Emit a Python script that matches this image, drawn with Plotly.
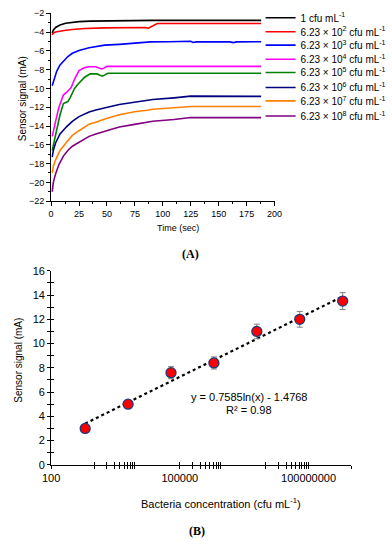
import math
import plotly.graph_objects as go

W, H = 392, 550
SANS = "Liberation Sans, Arial, sans-serif"
SERIF = "Liberation Serif, Times New Roman, serif"

# ---------------- Panel A data ----------------
legend_names = [
    "1 cfu mL<sup>-1</sup>",
    "6.23 \u00d7 10<sup>2</sup> cfu mL<sup>-1</sup>",
    "6.23 \u00d7 10<sup>3</sup> cfu mL<sup>-1</sup>",
    "6.23 \u00d7 10<sup>4</sup> cfu mL<sup>-1</sup>",
    "6.23 \u00d7 10<sup>5</sup> cfu mL<sup>-1</sup>",
    "6.23 \u00d7 10<sup>6</sup> cfu mL<sup>-1</sup>",
    "6.23 \u00d7 10<sup>7</sup> cfu mL<sup>-1</sup>",
    "6.23 \u00d7 10<sup>8</sup> cfu mL<sup>-1</sup>",
]
line_colors = ["#000000", "#ff0000", "#0000ff", "#ff00ff", "#008000", "#000080", "#ff8000", "#800080"]

t_c1 = [1, 2, 4, 8, 13, 19, 25, 35, 48, 65, 91, 120, 150, 188]
v_c1 = [-4.1, -3.8, -3.5, -3.25, -3.05, -2.97, -2.88, -2.83, -2.8, -2.76, -2.75, -2.75, -2.75, -2.75]

t_c2 = [1, 2, 4, 8, 13, 19, 30, 48, 61, 70, 78, 84, 87, 90, 93, 95, 120, 150, 188]
v_c2 = [-4.3, -4.1, -3.98, -3.88, -3.8, -3.72, -3.62, -3.55, -3.52, -3.48, -3.45, -3.5, -3.58, -3.4, -3.15, -3.08, -3.08, -3.08, -3.08]

t_c3 = [1, 3, 5, 8, 11, 15, 19, 25, 34, 48, 61, 76, 89, 105, 125, 127, 130, 160, 163, 166, 188]
v_c3 = [-9.7, -8.8, -8.17, -7.5, -7.1, -6.6, -6.25, -5.95, -5.67, -5.39, -5.3, -5.14, -5.04, -5.02, -4.97, -5.1, -5.04, -5.04, -5.12, -5.04, -5.02]

t_c4 = [1, 3, 5, 7, 9, 11, 14, 16, 18, 21, 25, 30, 34, 40, 43, 45, 47, 50, 60, 188]
v_c4 = [-15.1, -13.9, -13.0, -12.0, -11.3, -10.7, -10.4, -10.2, -9.9, -9.0, -8.1, -7.78, -7.68, -7.68, -7.8, -7.92, -7.85, -7.65, -7.65, -7.65]

t_c5 = [1, 3, 5, 8, 11, 13, 15, 17, 19, 21, 24, 27, 30, 35, 41, 44, 46, 48, 51, 60, 188]
v_c5 = [-16.6, -15.4, -14.4, -12.8, -11.6, -11.5, -11.4, -11.0, -10.5, -10.0, -9.55, -9.15, -8.8, -8.45, -8.45, -8.6, -8.69, -8.55, -8.38, -8.38, -8.38]

t_c6 = [1, 2, 4, 8, 14, 19, 25, 34, 40, 48, 61, 76, 86, 88, 91, 110, 123, 125, 188]
v_c6 = [-17.3, -16.6, -15.8, -14.85, -14.06, -13.5, -13.0, -12.5, -12.3, -12.08, -11.7, -11.45, -11.25, -11.2, -11.18, -11.0, -10.86, -10.82, -10.84]

t_c7 = [1, 2, 4, 8, 14, 19, 25, 34, 40, 48, 61, 76, 86, 88, 91, 110, 123, 125, 188]
v_c7 = [-19.0, -18.3, -17.6, -16.6, -15.7, -15.0, -14.5, -13.8, -13.6, -13.25, -12.8, -12.45, -12.32, -12.25, -12.22, -12.05, -11.95, -11.92, -11.92]

t_c8 = [1, 2, 4, 7, 11, 15, 19, 25, 34, 40, 48, 61, 76, 87, 91, 110, 123, 125, 188]
v_c8 = [-21.0, -20.0, -19.1, -18.1, -17.2, -16.6, -16.15, -15.7, -15.1, -14.85, -14.55, -14.1, -13.8, -13.55, -13.5, -13.3, -13.13, -13.1, -13.1]

series_t = [t_c1, t_c2, t_c3, t_c4, t_c5, t_c6, t_c7, t_c8]
series_v = [v_c1, v_c2, v_c3, v_c4, v_c5, v_c6, v_c7, v_c8]

# ---------------- Panel B data ----------------
concentration = [6.23e2, 6.23e3, 6.23e4, 6.23e5, 6.23e6, 6.23e7, 6.23e8]
signal = [3.0, 5.0, 7.6, 8.4, 11.0, 12.0, 13.5]
signal_err = [0.2, 0.25, 0.5, 0.5, 0.6, 0.65, 0.7]
fit_slope = 0.7585
fit_intercept = -1.4768
fit_r2 = 0.98

xb_tickvals = [1e2, 1e5, 1e8, 1e9]
xb_ticktext = ["100", "100000", "100000000", " "]
xb_minor = [1e3, 2e3, 3e3, 4e3, 5e3, 6e3, 7e3, 8e3, 9e3,
            2e5, 3e5, 4e5, 5e5, 6e5, 7e5, 8e5, 9e5,
            1e7, 2e7, 3e7, 4e7, 5e7, 6e7, 7e7, 8e7, 9e7]

fig = go.Figure()

legend_centers = [12.0, 26.3, 40.0, 54.5, 68.0, 83.3, 97.0, 112.5]
for i in range(8):
    lg = "legend" if i == 0 else f"legend{i+1}"
    fig.add_trace(go.Scatter(
        x=series_t[i], y=series_v[i], mode="lines",
        line=dict(color=line_colors[i], width=1.6),
        name=legend_names[i], xaxis="x", yaxis="y", legend=lg,
    ))

trend_x = [concentration[0], concentration[-1]]
trend_y = [fit_slope * math.log(v) + fit_intercept for v in trend_x]
fig.add_trace(go.Scatter(
    x=trend_x, y=trend_y, mode="lines",
    line=dict(color="black", width=2.2, dash="dot"),
    xaxis="x3", yaxis="y3", showlegend=False, hoverinfo="skip",
))
fig.add_trace(go.Scatter(
    x=concentration, y=signal, mode="markers",
    marker=dict(size=10, color="#ff0000", line=dict(color="#1f3a7a", width=1.3)),
    error_y=dict(type="data", array=signal_err, color="#808080", thickness=1, width=3),
    xaxis="x3", yaxis="y3", showlegend=False,
))
# helper trace for the inner half of the crossing ticks
fig.add_trace(go.Scatter(
    x=concentration, y=signal, mode="markers", marker=dict(opacity=0),
    xaxis="x4", yaxis="y4", showlegend=False, hoverinfo="skip",
))

axis_common = dict(showline=True, linecolor="black", linewidth=1, showgrid=False,
                   zeroline=False, tickcolor="black", tickwidth=1)

layout = dict(
    width=W, height=H, autosize=False,
    margin=dict(l=0, r=0, t=0, b=0),
    paper_bgcolor="white", plot_bgcolor="rgba(0,0,0,0)",
    font=dict(family=SANS, color="black"),
    xaxis=dict(domain=[44 / W, 277.6 / W], range=[0, 200], anchor="y",
               tickmode="linear", tick0=0, dtick=25, ticks="outside", ticklen=4,
               tickfont=dict(size=9, family=SANS),
               minor=dict(dtick=12.5, ticks="outside", ticklen=2, tickcolor="black"),
               **axis_common),
    yaxis=dict(domain=[1 - 199.5 / H, 1 - 7.5 / H], range=[-22, -2], anchor="x",
               tickmode="linear", tick0=0, dtick=2, ticks="outside", ticklen=4,
               tickfont=dict(size=9, family=SANS),
               minor=dict(dtick=1, ticks="outside", ticklen=2, tickcolor="black"),
               **axis_common),
    xaxis3=dict(domain=[44 / W, 358 / W], type="log", range=[2, 9], anchor="y3",
                tickmode="array", tickvals=xb_tickvals, ticktext=xb_ticktext,
                ticks="outside", ticklen=3, tickfont=dict(size=11, family=SANS),
                minor=dict(tickmode="array", tickvals=xb_minor, ticks="outside", ticklen=3, tickcolor="black"),
                **axis_common),
    yaxis3=dict(domain=[1 - 469.1 / H, 1 - 270.7 / H], range=[0, 16], anchor="x3",
                tickmode="linear", tick0=0, dtick=2, ticks="outside", ticklen=3,
                tickfont=dict(size=11, family=SANS),
                minor=dict(dtick=1, ticks="outside", ticklen=3, tickcolor="black"),
                **axis_common),
    xaxis4=dict(type="log", range=[2, 9], overlaying="x3", anchor="y3",
                tickmode="array", tickvals=xb_tickvals, showticklabels=False,
                ticks="inside", ticklen=3,
                minor=dict(tickmode="array", tickvals=xb_minor, ticks="inside", ticklen=3, tickcolor="black"),
                **axis_common),
    yaxis4=dict(range=[0, 16], overlaying="y3", anchor="x3",
                tickmode="linear", tick0=0, dtick=2, showticklabels=False,
                ticks="inside", ticklen=3,
                minor=dict(dtick=1, ticks="inside", ticklen=3, tickcolor="black"),
                **axis_common),
)

for i in range(8):
    key = "legend" if i == 0 else f"legend{i+1}"
    layout[key] = dict(
        x=263 / W, y=1 - legend_centers[i] / H, xanchor="left", yanchor="middle",
        bgcolor="rgba(0,0,0,0)", borderwidth=0,
        font=dict(size=10, family=SANS, color="black"),
        itemwidth=30, tracegroupgap=0,
    )

def ann(text, x, y, size, family=SANS, angle=0):
    return dict(text=text, x=x / W, y=1 - y / H, xref="paper", yref="paper",
                xanchor="center", yanchor="middle", showarrow=False,
                textangle=angle, font=dict(size=size, family=family, color="black"))

layout["annotations"] = [
    ann("Sensor signal (mA)", 15, 95, 10, angle=-90),
    ann("Time (sec)", 177, 227, 9),
    ann("<b>(A)</b>", 190, 254, 12, family=SERIF),
    ann("Sensor signal (mA)", 9, 362, 10, angle=-90),
    ann("Bacteria concentration (cfu mL<sup>-1</sup>)", 222, 508, 11),
    ann("<b>(B)</b>", 196, 537, 12, family=SERIF),
    ann(f"y = {fit_slope}ln(x) - {abs(fit_intercept)}", 251, 400, 11),
    ann(f"R\u00b2 = {fit_r2}", 251, 413, 11),
]

fig.update_layout(**layout)
fig.write_html(
    "out.html",
    config={"displayModeBar": False},
    post_script="document.body.style.margin='0';document.body.style.overflow='hidden';",
)
